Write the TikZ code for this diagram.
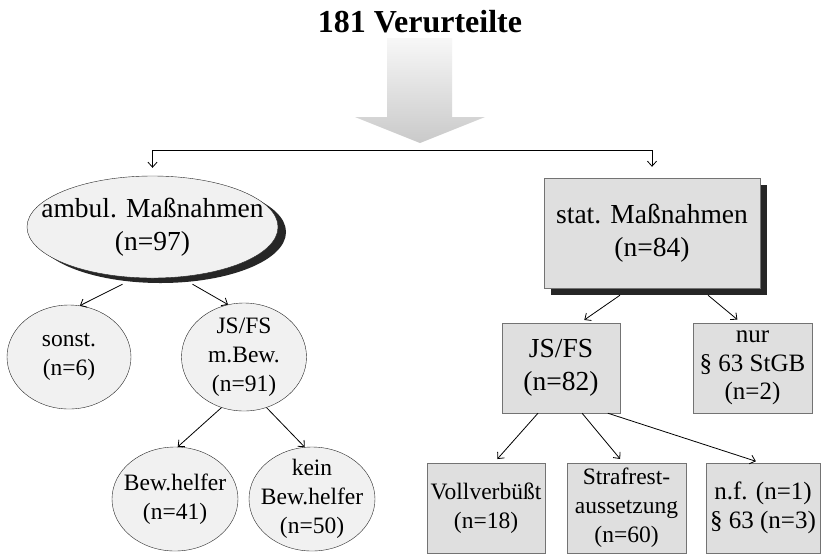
\documentclass[tikz,border=0pt]{standalone}
\usepackage{fontspec}
\setmainfont{Liberation Serif}
\usetikzlibrary{shapes.geometric}
\usetikzlibrary{shadows}
\usetikzlibrary{arrows.meta}

\newcommand{\grossschrift}{\fontsize{27.5}{32.5}\selectfont}
\newcommand{\mittelschrift}{\fontsize{25}{28.5}\selectfont}
\newcommand{\kleinschrift}{\fontsize{23.5}{29}\selectfont}

\begin{document}
\begin{tikzpicture}[x=1pt,y=-1pt,
        oval/.style={ellipse,draw=black!85,fill=gray!11,inner sep=-9pt,align=center,font=\kleinschrift},
        kasten/.style={rectangle,draw=black!55,fill=gray!25,inner sep=0pt,align=center,font=\kleinschrift},
        schatten/.style={drop shadow={shadow xshift=#1,shadow yshift=-7pt,fill=black!85,opacity=1}},
        pfeil/.style={-{Straight Barb[length=5pt,width=9pt]},line width=0.8pt}]
            \useasboundingbox[fill=white] (0,0) rectangle (821,555);
            \node[font=\bfseries\fontsize{32}{36}\selectfont] (titel) at (420,22) {181 Verurteilte};
            \shade[top color=gray!6,bottom color=gray!42] (387,38) -- (452,38) -- (452,117) -- (485,117)
                -- (420,143) -- (355,117) -- (387,117) -- cycle;
            % linker Ast
            \node[oval,font=\grossschrift,inner xsep=-25pt,minimum width=251pt,minimum height=102pt,
                drop shadow={shadow xshift=8pt,shadow yshift=-5pt,fill=black!85,opacity=1}] (ambul) at (152.5,227) {ambul. Maßnahmen\\(n=97)};
            \node[oval,minimum width=124pt,minimum height=104pt] (sonst) at (69,357) {sonst.\\(n=6)};
            \node[oval,minimum width=125pt,minimum height=108pt] (jsbew) at (244,357) {JS/FS\\m.Bew.\\(n=91)};
            \node[oval,minimum width=126pt,minimum height=104pt] (helfer) at (175,499) {Bew.helfer\\(n=41)};
            \node[oval,minimum width=126pt,minimum height=104pt] (keinhelfer) at (312,499) {kein\\Bew.helfer\\(n=50)};
            % rechter Ast
            \node[kasten,font=\grossschrift,minimum width=216pt,minimum height=110pt,schatten=7pt] (stat) at (652,233) {stat. Maßnahmen\\(n=84)};
            \node[kasten,font=\grossschrift,minimum width=118pt,minimum height=90pt] (jsfs) at (561,368) {JS/FS\\(n=82)};
            \node[kasten,font=\mittelschrift,minimum width=119pt,minimum height=90pt] (nur) at (752.5,368) {nur\\§ 63 StGB\\(n=2)};
            \node[kasten,minimum width=118pt,minimum height=90pt] (voll) at (486,508) {Vollverbüßt\\(n=18)};
            \node[kasten,minimum width=119pt,minimum height=90pt] (rest) at (626.5,508) {Strafrest-\\aussetzung\\(n=60)};
            \node[kasten,font=\mittelschrift,minimum width=114pt,minimum height=90pt] (nf) at (763,508) {n.f. (n=1)\\§ 63 (n=3)};
            % Verbindungen
            \coordinate (gabel) at (420,150);
            \draw[pfeil] (gabel) -| ([yshift=8pt]ambul.north);
            \draw[pfeil] (gabel) -| ([yshift=11pt]stat.north);
            \draw[pfeil] ([xshift=-30pt,yshift=-6pt]ambul.south) -- (sonst.78);
            \draw[pfeil] ([xshift=40pt,yshift=-6pt]ambul.south) -- (jsbew.107);
            \draw[pfeil] (jsbew.246) -- (helfer.87);
            \draw[pfeil] (jsbew.294) -- (keinhelfer.98);
            \draw[pfeil,shorten >=5pt] ([xshift=-32pt,yshift=-7pt]stat.south) -- (jsfs.67);
            \draw[pfeil,shorten >=5pt] ([xshift=56pt,yshift=-7pt]stat.south) -- (nur.104);
            \draw[pfeil,shorten >=5pt] (jsfs.243) -- (voll.80);
            \draw[pfeil,shorten >=5pt] (jsfs.295) -- (rest.94);
            \draw[pfeil,shorten >=5pt] (jsfs.316) -- (nf.93);
        \end{tikzpicture}
\end{document}
